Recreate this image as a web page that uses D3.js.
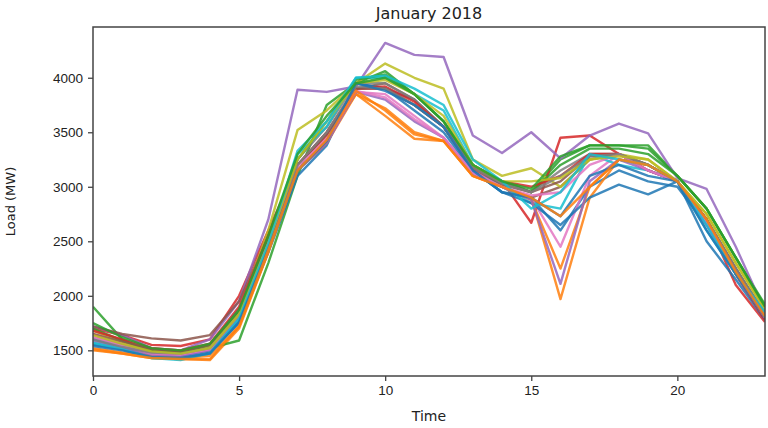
<!DOCTYPE html>
<html>
<head>
<meta charset="utf-8">
<script src="https://cdn.jsdelivr.net/npm/d3@7"></script>
<style>
  body { margin: 0; background: #fff; }
  svg { font-family: "DejaVu Sans", sans-serif; }
  .tick text { fill: #222; font-size: 13.5px; }
</style>
</head>
<body>
<div id="chart"></div>
<script>
// hour of day
const hours = d3.range(0, 24)
const xTicks = [0, 5, 10, 15, 20]
const yTicks = [1500, 2000, 2500, 3000, 3500, 4000]

// matplotlib tab10 cycle
const colors = ['#1f77b4','#ff7f0e','#2ca02c','#d62728','#9467bd','#8c564b','#e377c2','#7f7f7f','#bcbd22','#17becf']

// daily load curves (MW), one per day
const day01 = [1600,1530,1470,1450,1500,1780,2450,3150,3400,3950,3900,3800,3550,3150,2950,2900,2600,3000,3150,3050,3000,2650,2250,1800]
const day02 = [1500,1470,1430,1420,1410,1700,2400,3200,3450,3850,3650,3440,3420,3100,3000,2900,1970,2900,3250,3200,3050,2700,2200,1790]
const day03 = [1900,1600,1480,1460,1520,1590,2300,3100,3750,3950,4060,3850,3600,3200,3050,2950,3250,3380,3380,3380,3100,2800,2350,1920]
const day04 = [1700,1640,1550,1540,1600,2000,2600,3200,3500,3900,3900,3750,3550,3200,3050,2670,3450,3470,3300,3150,3050,2700,2100,1760]
const day05 = [1720,1640,1520,1500,1600,1950,2700,3890,3870,3920,4320,4210,4190,3470,3310,3500,3260,3470,3580,3490,3080,2980,2450,1860]
const day06 = [1720,1650,1610,1590,1640,1950,2550,3200,3500,3900,3950,3800,3550,3150,3000,2900,3000,3250,3300,3200,3050,2700,2250,1820]
const day07 = [1650,1560,1490,1470,1520,1850,2500,3200,3450,3870,3850,3650,3450,3150,3000,2900,2450,3100,3300,3150,3050,2650,2200,1800]
const day08 = [1620,1550,1500,1480,1530,1850,2500,3250,3550,3950,3950,3800,3550,3200,3050,2950,3150,3300,3300,3200,3050,2700,2250,1840]
const day09 = [1680,1580,1500,1480,1540,1850,2600,3520,3700,3950,4130,4000,3900,3250,3100,3170,3000,3250,3300,3250,3050,2750,2300,1880]
const day10 = [1560,1520,1430,1410,1480,1800,2500,3300,3550,4000,4000,3850,3700,3200,3000,2850,2800,3300,3200,3150,3050,2600,2200,1850]
const day11 = [1550,1510,1440,1430,1480,1750,2400,3100,3380,3950,3900,3700,3500,3150,2950,2850,2650,2900,3020,2930,3050,2500,2150,1780]
const day12 = [1520,1480,1450,1430,1450,1720,2400,3150,3400,3850,3720,3500,3420,3100,3000,2880,2250,3000,3250,3200,3050,2700,2200,1800]
const day13 = [1700,1590,1500,1480,1550,1850,2550,3250,3600,3980,4030,3850,3600,3200,3050,2950,3200,3350,3350,3300,3100,2800,2350,1900]
const day14 = [1680,1600,1520,1500,1560,1900,2550,3200,3480,3900,3920,3780,3550,3180,3050,3000,3100,3300,3300,3150,3050,2700,2200,1780]
const day15 = [1580,1520,1460,1450,1500,1800,2450,3150,3400,3870,3800,3600,3450,3120,3000,2880,2110,3050,3250,3150,3050,2650,2200,1800]
const day16 = [1650,1580,1510,1490,1550,1880,2500,3200,3480,3900,3900,3750,3550,3170,3020,2950,3050,3280,3300,3200,3050,2700,2250,1830]
const day17 = [1620,1540,1470,1460,1510,1830,2480,3180,3430,3880,3820,3620,3450,3130,3000,2920,2950,3200,3300,3150,3050,2680,2220,1800]
const day18 = [1600,1530,1480,1470,1520,1830,2480,3200,3500,3920,3900,3750,3550,3180,3030,2950,3100,3280,3300,3200,3050,2700,2250,1830]
const day19 = [1640,1560,1490,1470,1520,1830,2480,3250,3600,3950,3980,3850,3650,3200,3050,3050,3080,3250,3280,3250,3050,2750,2300,1870]
const day20 = [1570,1510,1430,1420,1470,1790,2480,3330,3600,4000,4020,3900,3750,3250,3050,2800,2950,3300,3250,3200,3050,2650,2200,1850]
const day21 = [1540,1500,1440,1430,1470,1760,2430,3150,3420,3950,3880,3750,3550,3150,2950,2900,2730,3100,3200,3100,3050,2600,2200,1800]
const day22 = [1510,1470,1430,1420,1420,1720,2420,3150,3430,3880,3700,3480,3420,3100,3000,2900,2730,3000,3250,3200,3050,2700,2220,1810]
const day23 = [1750,1620,1520,1500,1560,1870,2550,3300,3650,3950,4000,3850,3600,3200,3050,2980,3280,3380,3380,3350,3100,2800,2350,1900]

const days = [day01,day02,day03,day04,day05,day06,day07,day08,day09,day10,day11,day12,
              day13,day14,day15,day16,day17,day18,day19,day20,day21,day22,day23]

const W = 768, H = 428
const margin = {top: 27, right: 3, bottom: 52, left: 93}

const svg = d3.select('#chart').append('svg')
    .attr('width', W)
    .attr('height', H)

// matplotlib style 5% margin on y
const lo = d3.min(days, d => d3.min(d)), hi = d3.max(days, d => d3.max(d))
const pad = (hi - lo) * 0.05

const x = d3.scaleLinear().domain([0, 23]).range([margin.left, W - margin.right])
const y = d3.scaleLinear().domain([lo - pad, hi + pad]).range([H - margin.bottom, margin.top])

const line = d3.line()
    .x((d, i) => x(hours[i]))
    .y(d => y(d))

svg.append('clipPath').attr('id', 'plotclip')
  .append('rect')
    .attr('x', margin.left).attr('y', margin.top)
    .attr('width', W - margin.left - margin.right)
    .attr('height', H - margin.top - margin.bottom)

svg.append('g').attr('clip-path', 'url(#plotclip)')
  .selectAll('path')
  .data(days)
  .join('path')
    .attr('d', line)
    .attr('fill', 'none')
    .attr('stroke', (d, i) => colors[i % 10])
    .attr('stroke-width', 2.4)
    .attr('stroke-linejoin', 'round')
    .attr('opacity', 0.85)

// frame
svg.append('rect')
    .attr('x', margin.left).attr('y', margin.top)
    .attr('width', W - margin.left - margin.right)
    .attr('height', H - margin.top - margin.bottom)
    .attr('fill', 'none')
    .attr('stroke', '#444')
    .attr('stroke-width', 1.5)

const xAxis = svg.append('g')
    .attr('transform', 'translate(0,' + (H - margin.bottom) + ')')
    .call(d3.axisBottom(x).tickValues(xTicks).tickSize(5).tickPadding(4))
const yAxis = svg.append('g')
    .attr('transform', 'translate(' + margin.left + ',0)')
    .call(d3.axisLeft(y).tickValues(yTicks).tickFormat(d3.format('d')).tickSize(5).tickPadding(5))

;[xAxis, yAxis].forEach(a => {
    a.select('.domain').remove()
    a.selectAll('.tick line').attr('stroke', '#444').attr('stroke-width', 1.3)
})

svg.append('text')
    .attr('x', (margin.left + W - margin.right) / 2)
    .attr('y', 19)
    .attr('text-anchor', 'middle')
    .attr('font-size', 16)
    .attr('fill', '#222')
    .text('January 2018')

svg.append('text')
    .attr('x', (margin.left + W - margin.right) / 2)
    .attr('y', 421)
    .attr('text-anchor', 'middle')
    .attr('font-size', 14)
    .attr('fill', '#222')
    .text('Time')

svg.append('text')
    .attr('transform', 'translate(15,' + ((margin.top + H - margin.bottom) / 2) + ') rotate(-90)')
    .attr('text-anchor', 'middle')
    .attr('font-size', 13)
    .attr('fill', '#222')
    .text('Load (MW)')
</script>
</body>
</html>
